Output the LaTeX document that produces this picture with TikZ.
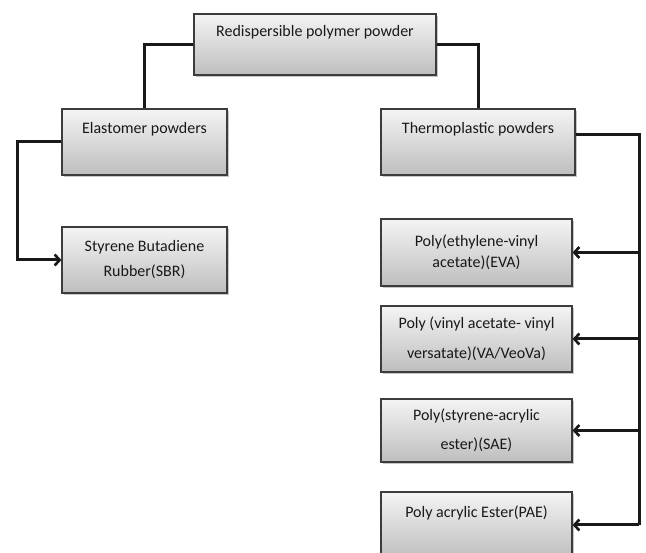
\documentclass[tikz,border=0pt]{standalone}
\usepackage{fontspec}
\setmainfont{Carlito}
\usepackage{xcolor}
\usepackage{tikz}
\usetikzlibrary{positioning,calc,shadows,arrows.meta}
\definecolor{BoxTop}{RGB}{244,244,244}
\definecolor{BoxBottom}{RGB}{190,190,190}
\definecolor{BoxLine}{RGB}{60,60,60}
\tikzset{
    box/.style={rectangle, draw=BoxLine, line width=1.2pt, top color=BoxTop, bottom color=BoxBottom,
        drop shadow={shadow xshift=1.5pt, shadow yshift=-1.8pt, opacity=0.45},
        align=center, inner sep=2pt, text=black!90,
        font=\fontsize{16}{21}\selectfont},
    link/.style={draw=black!90, line width=3pt},
    arr/.style={link, -{Straight Barb[length=5pt,width=11pt,line width=2.6pt]}}
}

\begin{document}
\begin{tikzpicture}[x=1pt, y=-1pt]
    % Khung hinh
    \useasboundingbox (0,0) rectangle (646,553);

    % --- CAC NUT ---
    % Goc
    \node[box, minimum width=242pt, minimum height=61pt] (root) at (315,44.5)
        {Redispersible polymer powder\\ \strut};
    % Hai nhanh chinh
    \node[box, minimum width=165pt, minimum height=66pt] (elast) at (144.5,142)
        {Elastomer powders\\ \strut};
    \node[box, minimum width=194pt, minimum height=66pt] (thermo) at (478,142)
        {Thermoplastic powders\\ \strut};
    % Nhanh trai: 1 la
    \node[box, minimum width=165pt, minimum height=66pt] (sbr) at (144.5,260)
        {Styrene Butadiene\\[4pt] Rubber(SBR)};
    % Nhanh phai: 4 la
    \node[box, minimum width=191pt, minimum height=67pt] (eva) at (476.5,252.5)
        {Poly(ethylene-vinyl\\ acetate)(EVA)};
    \node[box, minimum width=191pt, minimum height=66pt] (va) at (476.5,339)
        {Poly (vinyl acetate- vinyl\\[9pt] versatate)(VA/VeoVa)};
    \node[box, minimum width=191pt, minimum height=63pt] (sae) at (476.5,430.5)
        {Poly(styrene-acrylic\\[8pt] ester)(SAE)};
    \node[box, minimum width=191pt, minimum height=66pt] (pae) at (476.5,525)
        {Poly acrylic Ester(PAE)\\ \strut};

    % --- DUONG NOI ---
    \coordinate (left bend) at (17,142);
    \coordinate (rail top) at (639,135);

    \draw[link] (root.west) -| (elast.north);
    \draw[link] (root.east) -| (thermo.north);
    \draw[arr] (elast.west) -- (left bend) |- (sbr.west);

    \draw[link] ([yshift=7pt]thermo.east) -- (rail top) -- (rail top |- pae.east);
    \draw[arr] (rail top |- eva.east) -- (eva.east);
    \draw[arr] (rail top |- va.east) -- (va.east);
    \draw[arr] (rail top |- sae.east) -- (sae.east);
    \draw[arr] (rail top |- pae.east) -- (pae.east);

\end{tikzpicture}
\end{document}
